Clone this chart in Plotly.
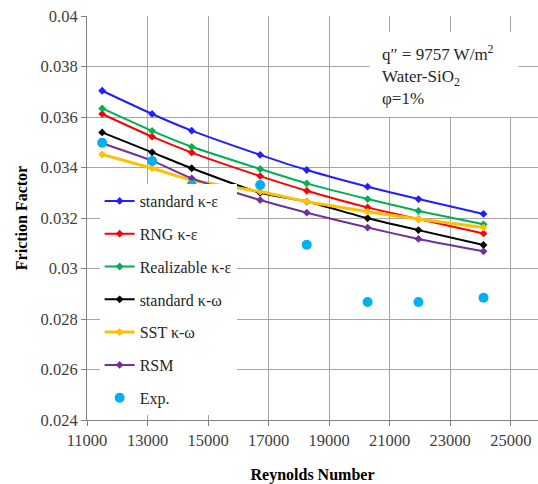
import plotly.graph_objects as go

re_num = [11500, 13150, 14460, 16720, 18260, 20270, 21950, 24100]

std_ke = [0.03704, 0.03612, 0.03546, 0.03450, 0.03390, 0.03324, 0.03275, 0.03216]
rng_ke = [0.03612, 0.03522, 0.03459, 0.03366, 0.03308, 0.03242, 0.03196, 0.03139]
real_ke = [0.03634, 0.03545, 0.03482, 0.03394, 0.03337, 0.03275, 0.03228, 0.03175]
std_kw = [0.03539, 0.03460, 0.03397, 0.03300, 0.03265, 0.03199, 0.03152, 0.03093]
sst_kw = [0.03452, 0.03397, 0.03350, 0.03305, 0.03265, 0.03225, 0.03196, 0.03162]
rsm = [0.03496, 0.03427, 0.03357, 0.03271, 0.03221, 0.03162, 0.03117, 0.03068]
exp_vals = [0.03498, 0.03426, 0.03331, 0.03331, 0.03094, 0.02867, 0.02867, 0.02884]

y_ticks = [0.024, 0.026, 0.028, 0.03, 0.032, 0.034, 0.036, 0.038, 0.04]
y_labels = ["0.024", "0.026", "0.028", "0.03", "0.032", "0.034", "0.036", "0.038", "0.04"]
x_ticks = [11000, 13000, 15000, 17000, 19000, 21000, 23000, 25000]

FONT = "'Liberation Serif', 'Times New Roman', serif"

series = [
    ("standard κ-ε", std_ke, "#1f1fff", 2),
    ("RNG κ-ε", rng_ke, "#ff0000", 2),
    ("Realizable κ-ε", real_ke, "#00b050", 2),
    ("standard κ-ω", std_kw, "#000000", 2),
    ("SST κ-ω", sst_kw, "#ffc000", 3),
    ("RSM", rsm, "#7030a0", 2),
]

fig = go.Figure()
for i, (name, vals, col, w) in enumerate(series):
    fig.add_trace(go.Scatter(
        x=re_num, y=vals, name=name, mode="lines+markers",
        line=dict(color=col, width=w, shape="spline", smoothing=0.5),
        marker=dict(symbol="diamond", size=6, color=col),
        legendgroup=f"g{i}",
    ))
fig.add_trace(go.Scatter(
    x=re_num, y=exp_vals, name="Exp.", mode="markers",
    marker=dict(symbol="circle", size=10, color="#00b0f0"),
    legendgroup="g_exp",
))

fig.add_shape(type="rect", xref="paper", yref="paper",
              x0=0.627, x1=0.956, y0=(420 - 117) / 404, y1=(420 - 32) / 404,
              fillcolor="white", line=dict(width=0), layer="above")
fig.add_annotation(
    xref="paper", yref="paper", x=0.650, y=(420 - 40) / 404,
    xanchor="left", yanchor="top", align="left", showarrow=False,
    text="q″ = 9757 W/m<sup>2</sup><br>Water-SiO<sub>2</sub><br>φ=1%",
    font=dict(family=FONT, size=17, color="#262626"),
)

fig.update_layout(
    width=538, height=484,
    margin=dict(l=87, r=0, t=16, b=64, autoexpand=False),
    paper_bgcolor="white", plot_bgcolor="white",
    font=dict(family=FONT, size=16.5, color="#404040"),
    showlegend=True,
    legend=dict(
        x=0.028, y=(420 - 184) / 404, xanchor="left", yanchor="top",
        bgcolor="white", borderwidth=0,
        font=dict(family=FONT, size=16, color="#262626"),
        tracegroupgap=9, traceorder="grouped",
    ),
)
fig.update_xaxes(
    range=[11000, 25900], tickvals=x_ticks, tickformat="d",
    showgrid=True, gridcolor="#a6a6a6", gridwidth=1,
    showline=True, linecolor="#808080", linewidth=1,
    ticks="outside", ticklen=5, tickcolor="#808080",
    zeroline=False, automargin=False,
    title=dict(text="<b>Reynolds Number</b>", font=dict(family=FONT, size=16, color="#000000"), standoff=22),
)
fig.update_yaxes(
    range=[0.024, 0.04], tickvals=y_ticks, ticktext=y_labels,
    showgrid=True, gridcolor="#a6a6a6", gridwidth=1,
    showline=True, linecolor="#808080", linewidth=1,
    ticks="outside", ticklen=5, tickcolor="#808080",
    zeroline=False, automargin=False,
    title=dict(text="<b>Friction Factor</b>", font=dict(family=FONT, size=16, color="#000000"), standoff=8),
)

fig.write_html("out.html", config={"displayModeBar": False},
               post_script="document.body.style.margin='0';document.body.style.padding='0';")
